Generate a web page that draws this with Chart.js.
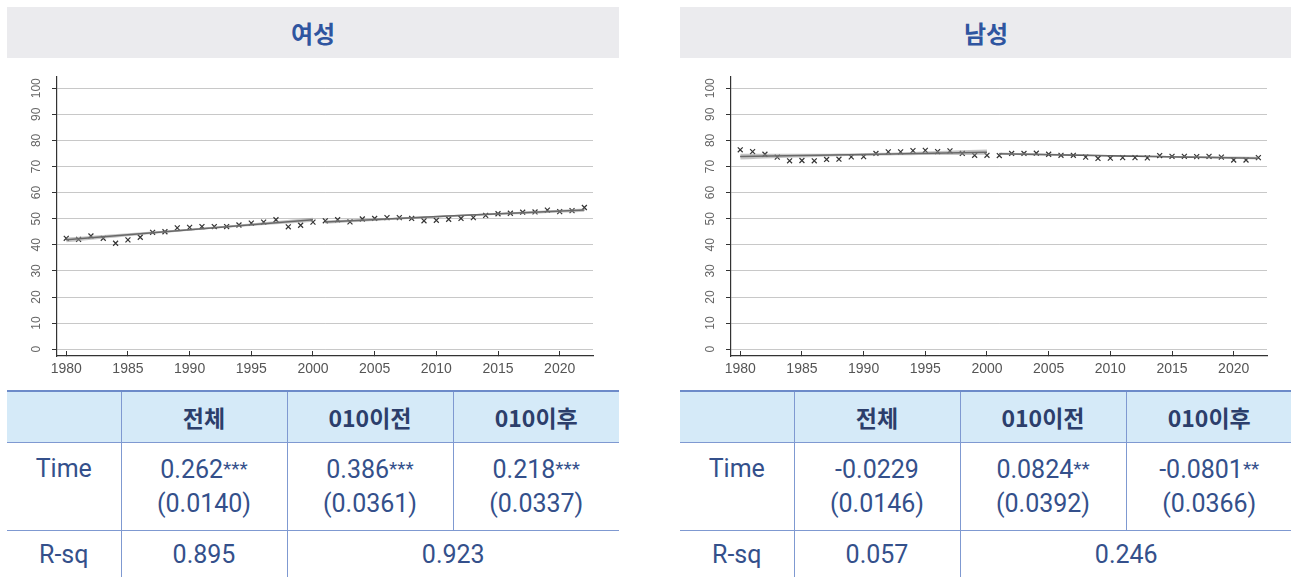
<!DOCTYPE html>
<html lang="ko">
<head>
<meta charset="utf-8">
<script src="https://cdn.jsdelivr.net/npm/chart.js@4.4.1/dist/chart.umd.min.js"></script>
<style>
    body { margin: 0; background: #fff; }
    #page { position: relative; width: 1291px; height: 577px; overflow: hidden; }
    .titulo {
        position: absolute; top: 7px; height: 51px; width: 612px;
        background: #ebebee; color: #2f55a0;
        font: bold 24px "Noto Sans CJK KR", sans-serif;
        line-height: 51px; text-align: center;
    }
    .grafico { position: absolute; top: 62px; height: 323px; }
    .tabela {
        position: absolute; top: 390px; width: 612px;
        border-collapse: collapse; table-layout: fixed;
        color: #34508b; font: 25px Roboto, "Noto Sans CJK KR", sans-serif;
    }
    .tabela th {
        height: 50px; background: #d5eaf8; color: #2c3e6b;
        font: bold 23px "Noto Sans CJK KR", sans-serif;
        border-top: 2px solid #6d8bc9; border-bottom: 1px solid #7f99d1;
        padding: 0;
    }
    .tabela td { text-align: center; padding: 0; border-bottom: 1px solid #7f99d1; }
    .tabela th + th, .tabela td + td { border-left: 1px solid #7f99d1; }
    .tabela tr.time td { height: 78px; line-height: 34px; vertical-align: top; padding-top: 9px; }
    .tabela tr.rsq td { height: 47px; border-bottom: none; }
    .ast { font-size: 19px; vertical-align: 3px; }
</style>
</head>
<body>
<div id="page">
    <div class="titulo" style="left:7px">여성</div>
    <div class="titulo" style="left:680px">남성</div>

    <div class="grafico" style="left:0px;width:620px"><canvas id="grafFeminino"></canvas></div>
    <div class="grafico" style="left:674px;width:617px"><canvas id="grafMasculino"></canvas></div>

    <table class="tabela" id="tabFeminino" style="left:7px"></table>
    <table class="tabela" id="tabMasculino" style="left:680px"></table>
</div>

<script>
// -------------------------------
// Dados
// -------------------------------
const anos = [1980,1981,1982,1983,1984,1985,1986,1987,1988,1989,1990,1991,1992,1993,1994,1995,1996,1997,1998,1999,2000,
              2001,2002,2003,2004,2005,2006,2007,2008,2009,2010,2011,2012,2013,2014,2015,2016,2017,2018,2019,2020,2021,2022];

const taxaFeminino = [42.5,42.1,43.4,42.5,40.6,41.9,42.9,44.8,45.0,46.5,46.7,47.0,47.0,47.0,47.6,48.3,48.7,49.6,46.9,47.5,48.7,
                      49.2,49.6,48.8,49.9,50.1,50.4,50.4,50.1,49.2,49.4,49.8,50.1,50.4,51.3,51.9,52.1,52.5,52.6,53.3,52.7,53.1,54.3];

const taxaMasculino = [76.4,75.7,74.7,73.6,72.2,72.3,72.2,72.7,72.8,73.7,73.8,75.0,75.6,75.6,76.1,76.2,75.7,76.0,75.0,74.3,74.3,
                       74.2,75.0,75.0,75.1,74.7,74.3,74.3,73.6,73.1,73.2,73.4,73.4,73.3,74.2,73.9,73.9,73.8,73.9,73.6,72.5,72.5,73.4];

// retas ajustadas (antes / depois de 2000) com intervalo de confiança
const anosAntes = [1980, 1990, 2000];
const anosDepois = [2001, 2011, 2022];

const fitFemAntes = [41.9, 45.8, 49.6];
const supFemAntes = [42.8, 46.2, 50.4];
const infFemAntes = [41.0, 45.4, 48.8];
const fitFemDepois = [48.7, 51.0, 53.3];
const supFemDepois = [49.3, 51.3, 53.9];
const infFemDepois = [48.1, 50.7, 52.7];

const fitMascAntes = [73.8, 74.6, 75.5];
const supMascAntes = [74.9, 75.1, 76.5];
const infMascAntes = [72.7, 74.1, 74.5];
const fitMascDepois = [74.9, 74.05, 73.2];
const supMascDepois = [75.4, 74.3, 73.7];
const infMascDepois = [74.4, 73.8, 72.7];

const ticksY = [0,10,20,30,40,50,60,70,80,90,100];

// tabelas
const colunas = ['', '전체', '010이전', '010이후'];
const tabFem = { coef: ['0.262', '0.386', '0.218'], sig: ['***', '***', '***'], ep: ['(0.0140)', '(0.0361)', '(0.0337)'], rsq: ['0.895', '0.923'] };
const tabMasc = { coef: ['-0.0229', '0.0824', '-0.0801'], sig: ['', '**', '**'], ep: ['(0.0146)', '(0.0392)', '(0.0366)'], rsq: ['0.057', '0.246'] };

// -------------------------------
// Gráficos
// -------------------------------
function pares(xs, ys) {
    return xs.map((x, i) => ({ x: x, y: ys[i] }));
}

function conjuntoBanda(xs, sup, inf, fit) {
    const banda = 'rgba(150,150,150,0.55)';
    return [
        { type: 'line', data: pares(xs, sup), borderWidth: 0, pointRadius: 0, fill: false, tension: 0.4 },
        { type: 'line', data: pares(xs, inf), borderWidth: 0, pointRadius: 0, fill: '-1', backgroundColor: banda, tension: 0.4 },
        { type: 'line', data: pares(xs, fit), borderColor: '#333', borderWidth: 1.5, pointRadius: 0, fill: false }
    ];
}

function montarGrafico(id, taxa, antes, depois, padDireita) {
    new Chart(document.getElementById(id), {
        type: 'scatter',
        data: {
            datasets: [
                ...conjuntoBanda(anosAntes, antes.sup, antes.inf, antes.fit),
                ...conjuntoBanda(anosDepois, depois.sup, depois.inf, depois.fit),
                { type: 'scatter', data: pares(anos, taxa), pointStyle: 'crossRot', pointRadius: 3.5,
                  borderColor: '#333', borderWidth: 1.2, backgroundColor: '#333' }
            ]
        },
        options: {
            responsive: true,
            maintainAspectRatio: false,
            animation: false,
            layout: { padding: { top: 15, right: padDireita, left: 0, bottom: 0 } },
            plugins: { legend: { display: false }, tooltip: { enabled: false } },
            scales: {
                x: {
                    type: 'linear', min: 1979.25, max: 2022.7,
                    ticks: { stepSize: 5, includeBounds: false, color: '#555', padding: 10,
                             font: { family: 'Liberation Sans', size: 14 },
                             callback: v => String(v) },
                    grid: { drawOnChartArea: false, tickLength: -5, tickColor: '#333' },
                    border: { color: '#333', width: 1.2 },
                    afterFit: s => { s.height = 29; }
                },
                y: {
                    min: -2.6, max: 104.3,
                    afterBuildTicks: s => { s.ticks = ticksY.map(v => ({ value: v })); },
                    ticks: { minRotation: 90, maxRotation: 90, crossAlign: 'center', padding: 5,
                             color: '#666', font: { family: 'Liberation Sans', size: 12 } },
                    grid: { color: '#c8c8c8', tickLength: 5, tickColor: '#333' },
                    border: { color: '#333', width: 1.2 },
                    afterFit: s => { s.width = 57; }
                }
            }
        }
    });
}

// -------------------------------
// Tabelas
// -------------------------------
function montarTabela(id, t) {
    let html = `<colgroup><col style="width:114px"><col style="width:166px"><col style="width:166px"><col style="width:166px"></colgroup>`;
    html += `<tr>${colunas.map(c => `<th>${c}</th>`).join('')}</tr>`;
    html += `<tr class="time"><td>Time</td>`;
    t.coef.forEach((c, i) => html += `<td>${c}<span class="ast">${t.sig[i]}</span><br>${t.ep[i]}</td>`);
    html += `</tr>`;
    html += `<tr class="rsq"><td>R-sq</td><td>${t.rsq[0]}</td><td colspan="2">${t.rsq[1]}</td></tr>`;
    document.getElementById(id).innerHTML = html;
}

montarGrafico('grafFeminino', taxaFeminino,
    { fit: fitFemAntes, sup: supFemAntes, inf: infFemAntes },
    { fit: fitFemDepois, sup: supFemDepois, inf: infFemDepois }, 27);
montarGrafico('grafMasculino', taxaMasculino,
    { fit: fitMascAntes, sup: supMascAntes, inf: infMascAntes },
    { fit: fitMascDepois, sup: supMascDepois, inf: infMascDepois }, 24);

montarTabela('tabFeminino', tabFem);
montarTabela('tabMasculino', tabMasc);
</script>
</body>
</html>
